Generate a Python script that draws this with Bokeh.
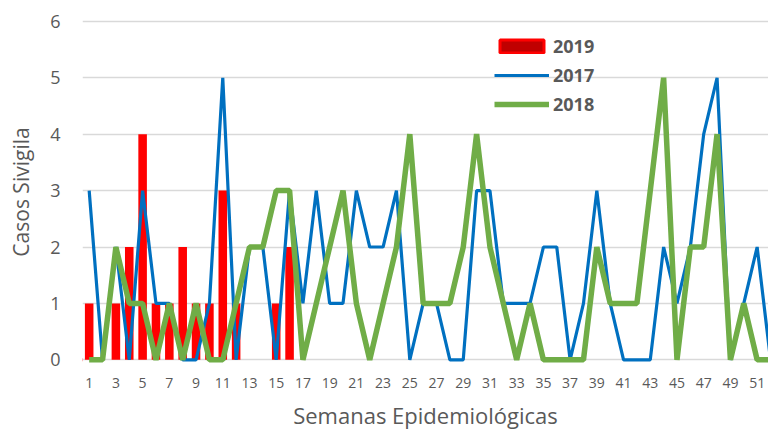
from bokeh.plotting import figure
from bokeh.models import Range1d, FixedTicker, Legend, LegendItem
from bokeh.embed import file_html
from bokeh.resources import INLINE

weeks = list(range(1, 53))
cases_2017 = [3, 0, 2, 0, 3, 1, 1, 0, 0, 1, 5, 0, 2, 2, 0, 3, 1, 3, 1, 1,
              3, 2, 2, 3, 0, 1, 1, 0, 0, 3, 3, 1, 1, 1, 2, 2, 0, 1, 3, 1,
              0, 0, 0, 2, 1, 2, 4, 5, 0, 1, 2, 0]
cases_2018 = [0, 0, 2, 1, 1, 0, 1, 0, 1, 0, 0, 1, 2, 2, 3, 3, 0, 1, 2, 3,
              1, 0, 1, 2, 4, 1, 1, 1, 2, 4, 2, 1, 0, 1, 0, 0, 0, 0, 2, 1,
              1, 1, 3, 5, 0, 2, 2, 4, 0, 1, 0, 0]
weeks_2019 = list(range(1, 17))
cases_2019 = [1, 0, 1, 2, 4, 1, 1, 2, 1, 1, 3, 1, 0, 0, 1, 2]
x_tick_labels = list(range(1, 53, 2))
y_ticks = [0, 1, 2, 3, 4, 5, 6]

GRAY = "#595959"
FONT = "Open Sans"

p = figure(width=768, height=428, output_backend="svg", toolbar_location=None,
           x_range=Range1d(0.5, 51.85), y_range=Range1d(-0.1, 6.05),
           frame_height=347, frame_width=686,
           min_border_left=82, min_border_right=0, min_border_top=18,
           min_border_bottom=63, outline_line_color=None)

p.vbar(x=weeks_2019, top=cases_2019, width=0.64, fill_color="#FF0000",
       line_color=None)
r17 = p.line(weeks, cases_2017, line_color="#0070C0", line_width=3.2)
r18 = p.line(weeks, cases_2018, line_color="#70AD47", line_width=5.5)

# legend swatch for 2019 (outside the visible range)
r19 = p.vbar(x=[0], top=[0], width=0.6, fill_color="#C00000",
             line_color="#FF0000", line_width=3)

legend = Legend(items=[LegendItem(label="2019", renderers=[r19]),
                       LegendItem(label="2017", renderers=[r17]),
                       LegendItem(label="2018", renderers=[r18])],
                location=(412, 249), orientation="vertical")
legend.border_line_color = None
legend.background_fill_alpha = 0
legend.padding = 0
legend.margin = 0
legend.spacing = 5
legend.glyph_width = 55
legend.glyph_height = 16
legend.label_height = 20
legend.label_standoff = 4
legend.label_text_font = FONT
legend.label_text_font_size = "18px"
legend.label_text_font_style = "bold"
legend.label_text_color = GRAY
p.add_layout(legend)

p.xgrid.grid_line_color = None
p.ygrid.grid_line_color = "#D9D9D9"
p.ygrid.grid_line_width = 1.5
p.ygrid.ticker = FixedTicker(ticks=y_ticks)

p.xaxis.ticker = FixedTicker(ticks=x_tick_labels)
p.yaxis.ticker = FixedTicker(ticks=y_ticks)
for ax in (p.xaxis, p.yaxis):
    ax.axis_line_color = None
    ax.major_tick_line_color = None
    ax.minor_tick_line_color = None
    ax.major_label_text_color = GRAY
    ax.major_label_text_font = FONT
    ax.axis_label_text_color = GRAY
    ax.axis_label_text_font = FONT
    ax.axis_label_text_font_style = "normal"

p.xaxis.major_label_text_font_size = "14px"
p.yaxis.major_label_text_font_size = "18px"
p.xaxis.major_label_standoff = 6
p.yaxis.major_label_standoff = 16
p.xaxis.axis_label = "Semanas Epidemiológicas"
p.yaxis.axis_label = "Casos Sivigila"
p.xaxis.axis_label_text_font_size = "22px"
p.yaxis.axis_label_text_font_size = "21px"
p.xaxis.axis_label_standoff = 9
p.yaxis.axis_label_standoff = 12

open("out.html", "w").write(file_html(p, INLINE))
